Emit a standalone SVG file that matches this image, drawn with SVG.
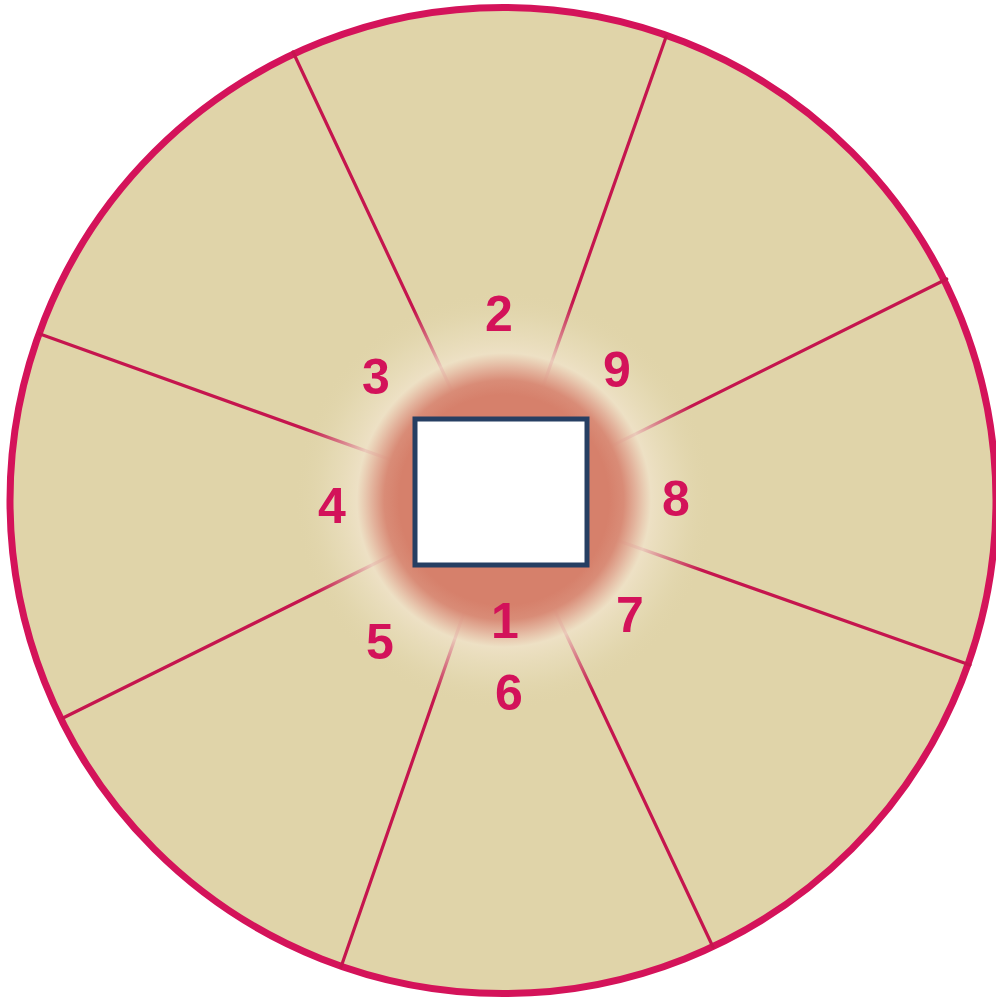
<svg xmlns="http://www.w3.org/2000/svg" width="996" height="1001" viewBox="0 0 996 1001">
  <defs>
    <radialGradient id="glow" gradientUnits="userSpaceOnUse" cx="504" cy="500" r="210">
      <stop offset="0" stop-color="#d6806b"/>
      <stop offset="0.50" stop-color="#d6806b"/>
      <stop offset="0.57" stop-color="#d98c77"/>
      <stop offset="0.63" stop-color="#e3b29c" stop-opacity="0.97"/>
      <stop offset="0.70" stop-color="#efe2c8" stop-opacity="0.88"/>
      <stop offset="0.84" stop-color="#eadfbf" stop-opacity="0.45"/>
      <stop offset="1" stop-color="#e0d4a9" stop-opacity="0"/>
    </radialGradient>
    <style>
      .disc { fill: #e0d4a9; stroke: #d4135a; stroke-width: 7; }
      .spoke { stroke: #c5154e; stroke-width: 3.2; fill: none; stroke-linecap: round; }
      .num { font-family: "Liberation Sans", Arial, sans-serif; font-weight: bold; font-size: 50px; fill: #d3125a; text-anchor: middle; }
      .box { fill: #ffffff; stroke: #263f63; stroke-width: 5; }
    </style>
  </defs>

  <g id="wheel">
    <circle class="disc" cx="503" cy="500.5" r="493"/>
  </g>

  <g id="connectors">
    <line class="spoke" x1="946.7" y1="279" x2="503" y2="500"/>
    <line class="spoke" x1="970" y1="665" x2="503" y2="500"/>
    <line class="spoke" x1="713" y1="947" x2="503" y2="500"/>
    <line class="spoke" x1="341" y1="967" x2="503" y2="500"/>
    <line class="spoke" x1="63" y1="718" x2="503" y2="500"/>
    <line class="spoke" x1="40" y1="334" x2="503" y2="500"/>
    <line class="spoke" x1="293" y1="52" x2="503" y2="500"/>
    <line class="spoke" x1="666" y1="37" x2="503" y2="500"/>
  </g>

  <g id="glow-halo">
    <circle cx="504" cy="500" r="210" fill="url(#glow)"/>
  </g>

  <g id="center-box">
    <rect class="box" x="415" y="419" width="172" height="146"/>
  </g>

  <g id="labels">
    <g id="n1"><text class="num" x="505" y="638">1</text></g>
    <g id="n2"><text class="num" x="499" y="331">2</text></g>
    <g id="n3"><text class="num" x="376" y="394">3</text></g>
    <g id="n4"><text class="num" x="332" y="523">4</text></g>
    <g id="n5"><text class="num" x="380" y="659">5</text></g>
    <g id="n6"><text class="num" x="509" y="710">6</text></g>
    <g id="n7"><text class="num" x="630" y="632">7</text></g>
    <g id="n8"><text class="num" x="676" y="516">8</text></g>
    <g id="n9"><text class="num" x="617" y="387">9</text></g>
  </g>
</svg>
